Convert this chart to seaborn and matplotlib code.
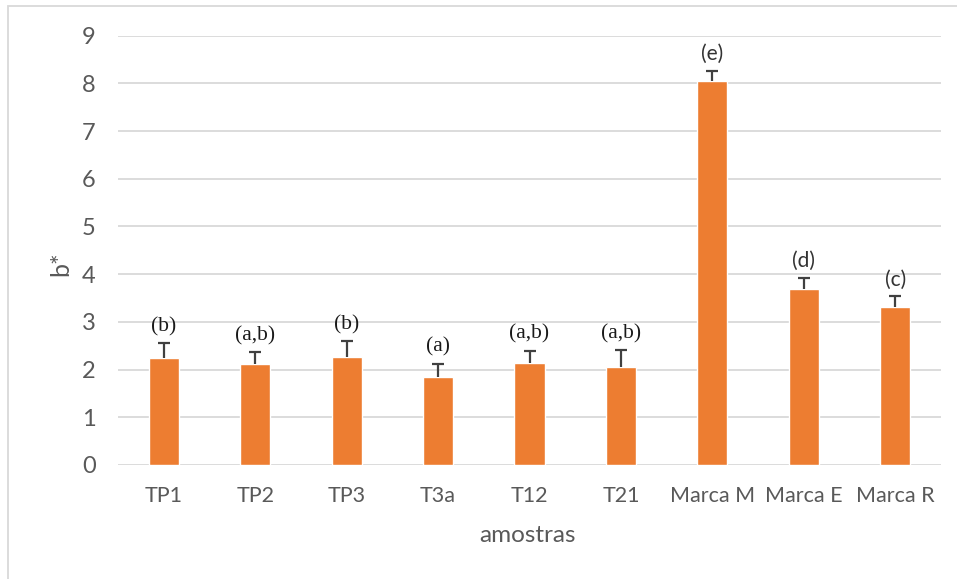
import matplotlib
matplotlib.use("Agg")
import matplotlib.pyplot as plt
import seaborn as sns
import pandas as pd
import numpy as np
from matplotlib.patches import Rectangle

# ---- data ----
amostras = ["TP1", "TP2", "TP3", "T3a", "T12", "T21", "Marca M", "Marca E", "Marca R"]
b_star = [2.24, 2.11, 2.27, 1.84, 2.13, 2.05, 8.04, 3.69, 3.31]
desvio = [0.31, 0.25, 0.32, 0.28, 0.27, 0.36, 0.22, 0.23, 0.23]
letras = ["(b)", "(a,b)", "(b)", "(a)", "(a,b)", "(a,b)", "(e)", "(d)", "(c)"]
yticks = [0, 1, 2, 3, 4, 5, 6, 7, 8, 9]

df = pd.DataFrame({"amostras": amostras, "b*": b_star})

sns.set_style("white")
plt.rcParams["font.family"] = ["Lato", "DejaVu Sans"]

fig = plt.figure(figsize=(9.57, 5.79), dpi=100)
ax = fig.add_axes([0.1233, 0.1969, 0.8600, 0.7415])

orange = "#ED7D31"
gray_txt = "#595959"

sns.barplot(data=df, x="amostras", y="b*", color=orange, saturation=1,
            width=0.33, errorbar=None, ax=ax, zorder=3)

xpos = np.arange(len(amostras))
eb = ax.errorbar(xpos, b_star, yerr=[np.zeros(len(desvio)), desvio], fmt="none",
                 ecolor="#404040", elinewidth=1.6, capsize=4.5, capthick=1.6, zorder=4)
# only the upper cap is shown (Excel "plus" error bars)
caps = eb[1]
if len(caps) == 2:
    caps[0].set_visible(False)

# letters above bars
for i, (v, e, t) in enumerate(zip(b_star, desvio, letras)):
    serif = i < 6
    ax.annotate(t, xy=(i, v + e), xytext=(0, 12), textcoords="offset points",
                ha="center", va="center",
                fontsize=15.5 if serif else 15,
                family=["Liberation Serif"] if serif else ["Lato", "DejaVu Sans"],
                color="#1a1a1a" if serif else "#333333", zorder=5)

ax.set_ylim(0, 9)
ax.set_xlim(-0.5, len(amostras) - 0.5)
ax.set_yticks(yticks)
ax.yaxis.grid(True, color="#D9D9D9", linewidth=1.3, zorder=0)
ax.set_axisbelow(True)
for s in ax.spines.values():
    s.set_visible(False)
ax.tick_params(axis="both", length=0, labelsize=15.5, labelcolor=gray_txt)
ax.tick_params(axis="y", labelsize=17, pad=16)
ax.tick_params(axis="x", pad=15)

ax.set_ylabel("b*", fontsize=18, color=gray_txt)
ax.set_xlabel("amostras", fontsize=17.5, color=gray_txt)
ax.yaxis.set_label_coords(-0.056, 0.47)
ax.xaxis.set_label_coords(0.498, -0.14)

# chart frame (light gray border)
fig.patches.append(Rectangle((8 / 957, -0.05), 1.2, 1 - 6 / 579 + 0.05,
                             transform=fig.transFigure, fill=False,
                             edgecolor="#D9D9D9", linewidth=1.3))

fig.savefig("out.png", dpi=100)
